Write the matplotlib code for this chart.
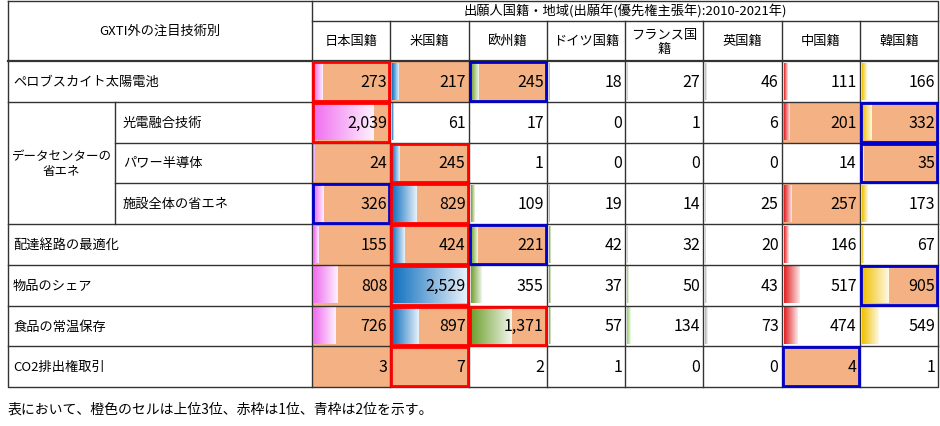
import matplotlib
matplotlib.use("Agg")
import matplotlib.pyplot as plt
from matplotlib.patches import Rectangle
import numpy as np

plt.rcParams["font.family"] = "Noto Sans CJK JP"

countries = ["日本国籍", "米国籍", "欧州籍", "ドイツ国籍", "フランス国\n籍", "英国籍", "中国籍", "韓国籍"]
rows = ["ペロブスカイト太陽電池", "光電融合技術", "パワー半導体", "施設全体の省エネ",
        "配達経路の最適化", "物品のシェア", "食品の常温保存", "CO2排出権取引"]
group_label = "データセンターの\n省エネ"
values = [
    [273, 217, 245, 18, 27, 46, 111, 166],
    [2039, 61, 17, 0, 1, 6, 201, 332],
    [24, 245, 1, 0, 0, 0, 14, 35],
    [326, 829, 109, 19, 14, 25, 257, 173],
    [155, 424, 221, 42, 32, 20, 146, 67],
    [808, 2529, 355, 37, 50, 43, 517, 905],
    [726, 897, 1371, 57, 134, 73, 474, 549],
    [3, 7, 2, 1, 0, 0, 4, 1],
]
extra_first = [(6, 1)]  # cell also framed red in the source
bar_colors = ["#f070f0", "#1070c0", "#70a030", "#60a020", "#90d060", "#b0b0b0", "#e02020", "#f0c000"]
title = "出願人国籍・地域(出願年(優先権主張年):2010-2021年)"
left_header = "GXTI外の注目技術別"
note = "表において、橙色のセルは上位3位、赤枠は1位、青枠は2位を示す。"

fig = plt.figure(figsize=(9.4, 4.27), dpi=100)
ax = fig.add_axes([0, 0, 1, 1])
ax.set_xlim(0, 940); ax.set_ylim(427, 0); ax.axis("off")

x0, xsub, xc0, xend = 8, 115, 312, 938
colw = (xend - xc0) / 8
rh = (388 - 62) / 8
row_y = [62 + i * rh for i in range(9)]
vmax = max(max(r) for r in values)
fs = 11.5

def grad_bar(x, y, w, h, color):
    if w <= 0.5:
        return
    rgb = np.array(matplotlib.colors.to_rgb(color))
    t = np.linspace(0, 1, 64)[None, :, None]
    img = rgb * (1 - t * 0.9) + np.ones(3) * t * 0.9
    ax.imshow(np.repeat(img, 2, axis=0), extent=(x, x + w, y + h, y), aspect="auto", zorder=2)

for i in range(len(rows)):
    order = list(np.argsort(values[i], kind="stable")[::-1])
    y = row_y[i]
    for j, v in enumerate(values[i]):
        x = xc0 + j * colw
        rank = order.index(j)
        if rank < 3:
            ax.add_patch(Rectangle((x, y), colw, rh, fc="#f4b183", ec="none", zorder=1))
        w = v / vmax * (colw - 4)
        grad_bar(x + 2, y + 2, w, rh - 4, bar_colors[j])
        ax.text(x + colw - 3, y + rh / 2, f"{v:,}", ha="right", va="center", fontsize=fs, zorder=4)
    for j in range(8):
        rank = order.index(j)
        x = xc0 + j * colw
        ec = None
        if rank == 0 or (i, j) in extra_first:
            ec = "#ff0000"
        elif rank == 1:
            ec = "#0000cc"
        if ec:
            ax.add_patch(Rectangle((x + 1, y + 1), colw - 2, rh - 2, fc="none", ec=ec, lw=2, zorder=5))

lk = dict(color="#333333", lw=1, zorder=3)
ax.plot([x0, xend, xend, x0, x0], [2, 2, 388, 388, 2], **lk)
ax.plot([xc0, xend], [22, 22], **lk)
ax.plot([x0, xend], [62, 62], color="#333333", lw=1.6, zorder=3)
for k in range(1, 8):
    yy = row_y[k]
    if k in (2, 3):
        ax.plot([xsub, xend], [yy, yy], **lk)
    else:
        ax.plot([x0, xend], [yy, yy], **lk)
ax.plot([xc0, xc0], [2, 388], **lk)
for j in range(1, 8):
    ax.plot([xc0 + j * colw] * 2, [22, 388], **lk)
ax.plot([xsub, xsub], [row_y[1], row_y[4]], **lk)

ax.text((xc0 + xend) / 2, 12, title, ha="center", va="center", fontsize=9.5)
ax.text((x0 + xc0) / 2, 31, left_header, ha="center", va="center", fontsize=9.5)
for j, c in enumerate(countries):
    ax.text(xc0 + (j + .5) * colw, 42, c, ha="center", va="center", fontsize=9.5, linespacing=1.1)
for i, r in enumerate(rows):
    xx = xsub + 8 if i in (1, 2, 3) else x0 + 5
    ax.text(xx, row_y[i] + rh / 2, r, ha="left", va="center", fontsize=9.5)
ax.text((x0 + xsub) / 2, (row_y[1] + row_y[4]) / 2, group_label, ha="center", va="center",
        fontsize=9, linespacing=1.2)
ax.text(8, 410, note, ha="left", va="center", fontsize=10)

fig.savefig("out.png", dpi=100)
